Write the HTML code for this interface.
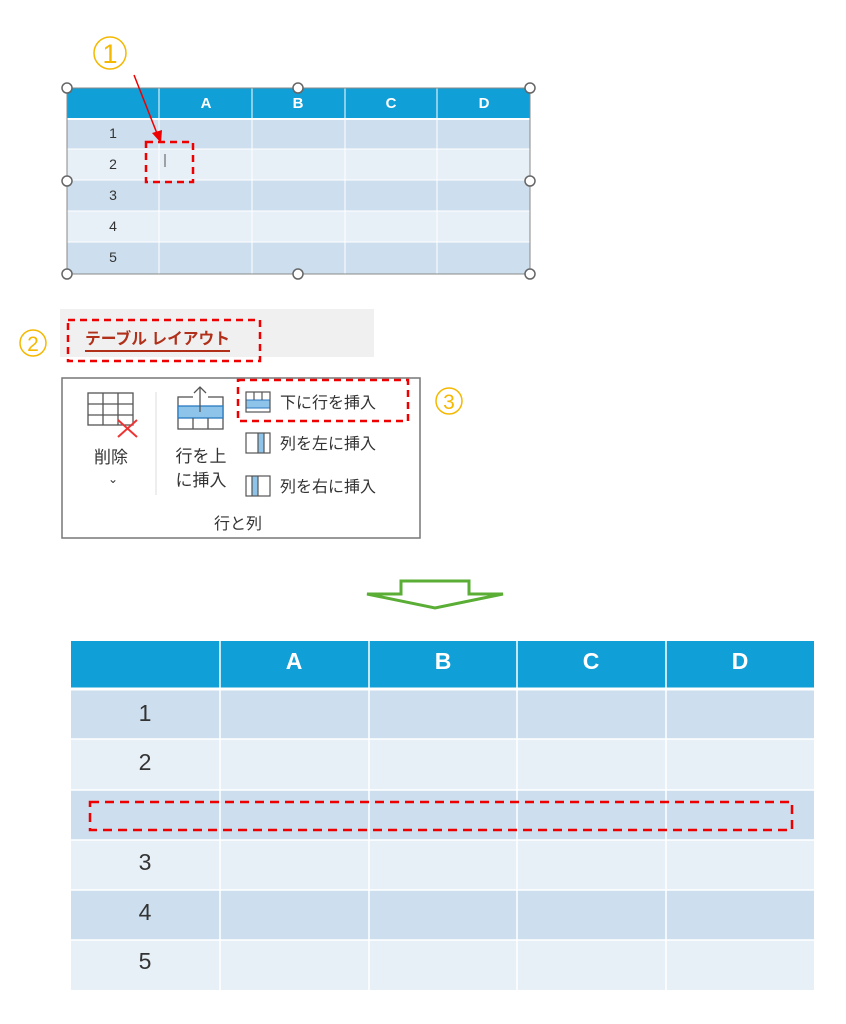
<!DOCTYPE html>
<html><head><meta charset="utf-8"><style>
body{margin:0;background:#fff;}
svg{display:block;font-family:"Liberation Sans","Noto Sans CJK JP",sans-serif;}
</style></head><body>
<svg width="846" height="1024" viewBox="0 0 846 1024" xmlns="http://www.w3.org/2000/svg">
<!-- Top table -->
<rect x="67" y="88" width="463" height="30" fill="#109fd6"/>
<rect x="67" y="118" width="463" height="31" fill="#cddfee"/>
<rect x="67" y="149" width="463" height="31" fill="#e7eff7"/>
<rect x="67" y="180" width="463" height="31" fill="#cddfee"/>
<rect x="67" y="211" width="463" height="31" fill="#e7eff7"/>
<rect x="67" y="242" width="463" height="32" fill="#cddfee"/>
<g stroke="#fff" stroke-width="1">
<line x1="159" y1="88" x2="159" y2="274"/><line x1="252" y1="88" x2="252" y2="274"/>
<line x1="345" y1="88" x2="345" y2="274"/><line x1="437" y1="88" x2="437" y2="274"/>
<line x1="67" y1="119" x2="530" y2="119" stroke-width="2"/>
<line x1="67" y1="149" x2="530" y2="149"/><line x1="67" y1="180" x2="530" y2="180"/>
<line x1="67" y1="211" x2="530" y2="211"/><line x1="67" y1="242" x2="530" y2="242"/>
</g>
<rect x="67" y="88" width="463" height="186" fill="none" stroke="#888" stroke-width="1"/>
<g fill="#fff" font-weight="bold" font-size="15" text-anchor="middle">
<text x="206" y="108">A</text><text x="298" y="108">B</text><text x="391" y="108">C</text><text x="484" y="108">D</text>
</g>
<g fill="#333" font-size="14" text-anchor="middle">
<text x="113" y="138">1</text><text x="113" y="169">2</text><text x="113" y="200">3</text><text x="113" y="231">4</text><text x="113" y="262">5</text>
</g>
<line x1="165" y1="154" x2="165" y2="167" stroke="#555" stroke-width="1"/>
<g fill="#fff" stroke="#666" stroke-width="1.5">
<circle cx="67" cy="88" r="5"/><circle cx="298" cy="88" r="5"/><circle cx="530" cy="88" r="5"/>
<circle cx="67" cy="181" r="5"/><circle cx="530" cy="181" r="5"/>
<circle cx="67" cy="274" r="5"/><circle cx="298" cy="274" r="5"/><circle cx="530" cy="274" r="5"/>
</g>
<rect x="146" y="142" width="47" height="40" fill="none" stroke="#e00" stroke-width="2.5" stroke-dasharray="7,5"/>
<line x1="134" y1="75" x2="158" y2="136" stroke="#e00" stroke-width="1.5"/>
<polygon points="161,143 152,133 162,130" fill="#e00"/>
<circle cx="110" cy="53" r="16" fill="none" stroke="#f5b800" stroke-width="1.5"/>
<text x="110" y="63" font-size="27" fill="#f5b800" text-anchor="middle">1</text>

<!-- Tab -->
<rect x="60" y="309" width="314" height="48" fill="#f0f0f0"/>
<rect x="68" y="320" width="192" height="41" fill="none" stroke="#e00" stroke-width="2.5" stroke-dasharray="7,5"/>
<text x="85" y="344" font-size="16" font-weight="bold" fill="#b0301a" textLength="145" lengthAdjust="spacingAndGlyphs">テーブル レイアウト</text>
<line x1="85" y1="351" x2="230" y2="351" stroke="#b0301a" stroke-width="2"/>
<circle cx="33" cy="343" r="13" fill="none" stroke="#f5b800" stroke-width="1.5"/>
<text x="33" y="351" font-size="21" fill="#f5b800" text-anchor="middle">2</text>

<!-- Ribbon -->
<rect x="62" y="378" width="358" height="160" fill="#fff" stroke="#777" stroke-width="1.5"/>
<line x1="156" y1="392" x2="156" y2="495" stroke="#ddd" stroke-width="1"/>
<g stroke="#555" stroke-width="1.3" fill="none">
<rect x="88" y="393" width="45" height="32"/>
<line x1="88" y1="404" x2="133" y2="404"/><line x1="88" y1="415" x2="133" y2="415"/>
<line x1="103" y1="393" x2="103" y2="425"/><line x1="118" y1="393" x2="118" y2="425"/>
</g>
<g stroke="#e33" stroke-width="2"><line x1="118" y1="420" x2="137" y2="437"/><line x1="137" y1="420" x2="118" y2="437"/></g>
<text x="111" y="463" font-size="17" fill="#333" text-anchor="middle">削除</text>
<text x="113" y="483" font-size="12" fill="#333" text-anchor="middle">⌄</text>
<g stroke="#555" stroke-width="1.3" fill="none">
<rect x="178" y="397" width="45" height="32"/>
</g>
<rect x="178" y="406" width="45" height="12" fill="#8ec3ea" stroke="#2a7ac0" stroke-width="1.3"/>
<g stroke="#555" stroke-width="1.3"><line x1="193" y1="418" x2="193" y2="429"/><line x1="208" y1="418" x2="208" y2="429"/></g>
<rect x="193" y="392" width="15" height="12" fill="#fff"/>
<g stroke="#555" stroke-width="1.3" fill="none"><line x1="200" y1="387" x2="200" y2="412"/><polyline points="194,393 200,387 206,393"/></g>
<text x="201" y="462" font-size="17" fill="#333" text-anchor="middle">行を上</text>
<text x="201" y="486" font-size="17" fill="#333" text-anchor="middle">に挿入</text>
<rect x="246" y="400" width="24" height="8" fill="#8ec3ea" stroke="#2a7ac0"/>
<rect x="258" y="433" width="6" height="20" fill="#8ec3ea"/>
<rect x="252" y="476" width="6" height="20" fill="#8ec3ea"/>
<g stroke="#555" stroke-width="1.2" fill="none">
<rect x="246" y="392" width="24" height="20"/>
<rect x="246" y="433" width="24" height="20"/>
<rect x="246" y="476" width="24" height="20"/>
<line x1="254" y1="392" x2="254" y2="400"/><line x1="262" y1="392" x2="262" y2="400"/>
<line x1="258" y1="433" x2="258" y2="453"/><line x1="264" y1="433" x2="264" y2="453"/>
<line x1="252" y1="476" x2="252" y2="496"/><line x1="258" y1="476" x2="258" y2="496"/>
</g>
<text x="280" y="408" font-size="16" fill="#333">下に行を挿入</text>
<text x="280" y="449" font-size="16" fill="#333">列を左に挿入</text>
<text x="280" y="492" font-size="16" fill="#333">列を右に挿入</text>
<rect x="238" y="380" width="170" height="41" fill="none" stroke="#e00" stroke-width="2.5" stroke-dasharray="7,5"/>
<circle cx="449" cy="401" r="13" fill="none" stroke="#f5b800" stroke-width="1.5"/>
<text x="449" y="409" font-size="21" fill="#f5b800" text-anchor="middle">3</text>
<text x="238" y="529" font-size="16" fill="#333" text-anchor="middle">行と列</text>

<!-- Green arrow -->
<polygon points="401,581 469,581 469,594 503,594 435,608 367,594 401,594" fill="#fff" stroke="#5aad35" stroke-width="3" stroke-linejoin="miter"/>

<!-- Bottom table -->
<rect x="71" y="641" width="743" height="47" fill="#109fd6"/>
<rect x="71" y="688" width="743" height="51" fill="#cddfee"/>
<rect x="71" y="739" width="743" height="51" fill="#e7eff7"/>
<rect x="71" y="790" width="743" height="50" fill="#cddfee"/>
<rect x="71" y="840" width="743" height="50" fill="#e7eff7"/>
<rect x="71" y="890" width="743" height="50" fill="#cddfee"/>
<rect x="71" y="940" width="743" height="50" fill="#e7eff7"/>
<g stroke="#fff" stroke-width="1.5">
<line x1="220" y1="641" x2="220" y2="990"/><line x1="369" y1="641" x2="369" y2="990"/>
<line x1="517" y1="641" x2="517" y2="990"/><line x1="666" y1="641" x2="666" y2="990"/>
<line x1="71" y1="689" x2="814" y2="689" stroke-width="3"/>
<line x1="71" y1="739" x2="814" y2="739"/><line x1="71" y1="790" x2="814" y2="790"/>
<line x1="71" y1="840" x2="814" y2="840"/><line x1="71" y1="890" x2="814" y2="890"/>
<line x1="71" y1="940" x2="814" y2="940"/>
</g>
<g fill="#fff" font-weight="bold" font-size="23" text-anchor="middle">
<text x="294" y="669">A</text><text x="443" y="669">B</text><text x="591" y="669">C</text><text x="740" y="669">D</text>
</g>
<g fill="#333" font-size="23" text-anchor="middle">
<text x="145" y="721">1</text><text x="145" y="770">2</text><text x="145" y="870">3</text><text x="145" y="920">4</text><text x="145" y="969">5</text>
</g>
<rect x="90" y="802" width="702" height="28" fill="none" stroke="#e00" stroke-width="2.5" stroke-dasharray="9,6"/>
</svg>
</body></html>
